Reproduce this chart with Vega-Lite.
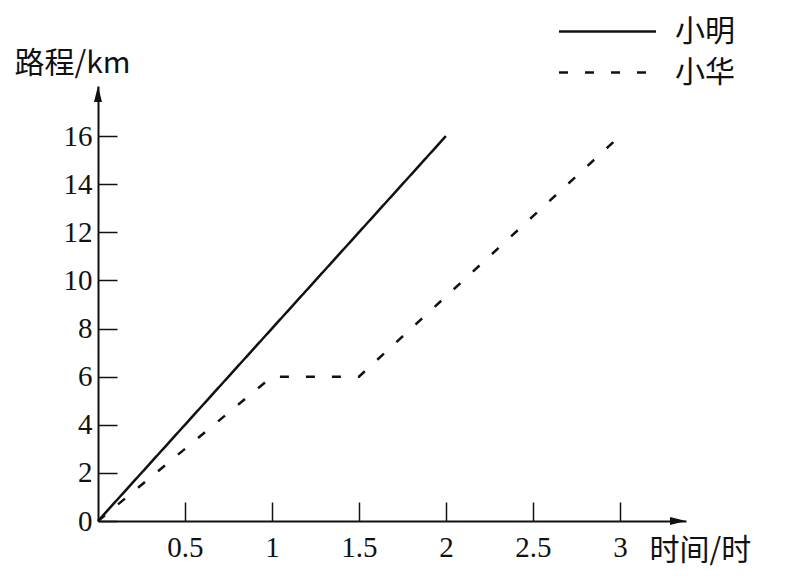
{
  "$schema": "https://vega.github.io/schema/vega-lite/v6.json",
  "width": 588,
  "height": 435,
  "autosize": {"type": "none"},
  "padding": {"left": 98, "top": 86, "right": 107, "bottom": 59},
  "background": "white",
  "config": {"view": {"stroke": null}, "font": "Liberation Serif"},
  "layer": [
    {
      "data": {"values": [
        {"t": 0, "d": 0, "who": "小明"}, {"t": 2, "d": 16, "who": "小明"},
        {"t": 0, "d": 0, "who": "小华"}, {"t": 1, "d": 6, "who": "小华"},
        {"t": 1.5, "d": 6, "who": "小华"}, {"t": 3, "d": 16, "who": "小华"}
      ]},
      "mark": {"type": "line", "color": "#111", "strokeWidth": 2.5},
      "encoding": {
        "x": {
          "field": "t", "type": "quantitative",
          "scale": {"domain": [0, 3.38], "nice": false, "zero": false},
          "axis": {
            "values": [0.5, 1, 1.5, 2, 2.5, 3], "format": "~g",
            "grid": false, "domainColor": "#111", "domainWidth": 2,
            "ticks": true, "tickSize": -19, "tickWidth": 1.5, "tickColor": "#111",
            "labelFont": "Liberation Serif", "labelFontSize": 29, "labelColor": "#111",
            "labelPadding": 31, "labelFlush": false, "labelOverlap": false,
            "title": "时间/时", "titleFont": "Noto Sans CJK SC", "titleFontSize": 30,
            "titleFontWeight": "normal", "titleColor": "#111", "titleAngle": 0,
            "titleAlign": "left", "titleBaseline": "middle", "titleX": 551, "titleY": 29
          }
        },
        "y": {
          "field": "d", "type": "quantitative",
          "scale": {"domain": [0, 18.08], "nice": false},
          "axis": {
            "values": [0, 2, 4, 6, 8, 10, 12, 14, 16],
            "grid": false, "domainColor": "#111", "domainWidth": 2,
            "ticks": true, "tickSize": -19, "tickWidth": 1.5, "tickColor": "#111",
            "labelFont": "Liberation Serif", "labelFontSize": 29, "labelColor": "#111",
            "labelPadding": 25, "labelFlush": false, "labelOverlap": false,
            "title": "路程/km", "titleFont": "Noto Sans CJK SC", "titleFontSize": 30,
            "titleFontWeight": "normal", "titleColor": "#111", "titleAngle": 0,
            "titleAlign": "left", "titleBaseline": "middle", "titleX": -84, "titleY": -23
          }
        },
        "strokeDash": {
          "field": "who", "type": "nominal",
          "scale": {"domain": ["小明", "小华"], "range": [[1, 0], [9, 17]]},
          "legend": {
            "orient": "none", "legendX": 484, "legendY": -80, "title": null,
            "symbolType": "M-2,0H2", "symbolSize": 2350, "symbolStrokeWidth": 2.5,
            "symbolStrokeColor": "#111", "labelFont": "Noto Sans CJK SC",
            "labelFontSize": 30, "labelColor": "#111", "labelOffset": 42,
            "rowPadding": -5, "padding": 0
          }
        }
      }
    },
    {
      "data": {"values": [{"t": 0, "d": 18.08}]},
      "mark": {"type": "point", "shape": "M0,0L-0.25,1L0.25,1Z", "filled": true, "color": "#111", "size": 1024, "opacity": 1},
      "encoding": {
        "x": {"field": "t", "type": "quantitative"},
        "y": {"field": "d", "type": "quantitative"}
      }
    },
    {
      "data": {"values": [{"t": 3.38, "d": 0}]},
      "mark": {"type": "point", "shape": "M0,0L-1,-0.25L-1,0.25Z", "filled": true, "color": "#111", "size": 1024, "opacity": 1},
      "encoding": {
        "x": {"field": "t", "type": "quantitative"},
        "y": {"field": "d", "type": "quantitative"}
      }
    }
  ]
}
